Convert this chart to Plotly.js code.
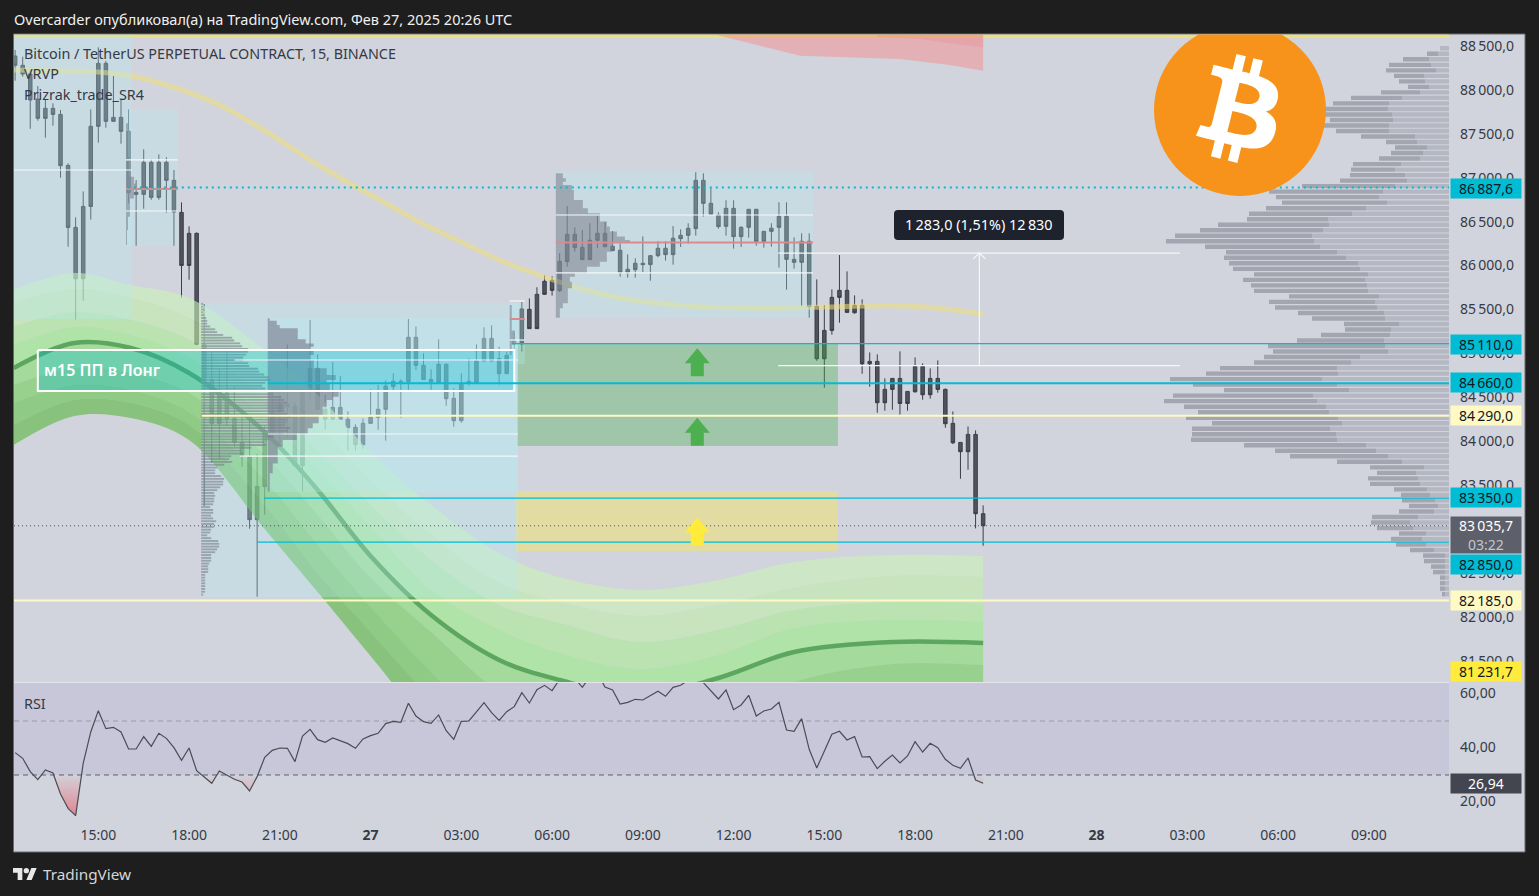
<!DOCTYPE html>
<html><head><meta charset="utf-8">
<script src="https://cdn.plot.ly/plotly-3.0.1.min.js"></script>
<style>html,body{margin:0;padding:0;background:#1e1e1e}#c{width:1539px;height:896px}</style>
</head><body><div id="c"></div>
<script>
// ---- candles: monochrome in the picture, so they are stored as wick and body extents
const firstBar = -11;
const highs = [88454,88378,88226,88044,87892,87847,87771,87163,86548,86844,87778,88485,88329,88158,87892,87778,86973,87323,87209,87266,87232,87087,86719,86446,86377,
85561,85026,84821,85026,84612,84274,84263,83853,84176,84582,84548,85102,84441,84589,85379,84988,84525,84901,84741,84339,84191,84259,84593,84639,84692,84772,84703,85391,85307,84999,84817,85159,84886,84601,84772,84943,85102,85296,85318,85075,85018,85246,
85581,85626,85752,85888,85877,86139,86678,86435,86405,86481,86564,86496,86393,86253,86127,86082,86332,86116,86279,86276,86450,86412,86481,87062,87050,86879,86606,86743,86743,86446,86640,86640,86389,86481,86720,86720,86321,86367,86367,
85842,85550,85728,86119,85933,85660,85614,85010,84988,84714,84714,85022,84566,84953,84885,84828,84919,84600,84338,83985,84167,84122,83268];
const bodyTops = [88386,88280,88181,87896,87790,87790,87721,87140,86434,86673,87585,88302,88302,87687,87687,87528,86833,87175,87175,87175,87175,86970,86605,86366,86366,
85102,84696,84548,84548,84259,83986,83819,83484,84111,84339,84419,84419,84396,84578,84829,84829,84362,84384,84384,84248,84157,84202,84271,84362,84627,84681,84681,85182,85182,84863,84703,84874,84874,84487,84658,84681,84912,85170,85170,84939,84977,85144,
85505,85501,85672,85820,85831,86048,86355,86355,86207,86287,86367,86367,86219,86173,85957,86025,86025,86112,86196,86196,86310,86344,86424,86970,86970,86708,86576,86651,86651,86435,86640,86640,86389,86424,86560,86560,86070,86276,86276,
85534,85261,85637,85717,85717,85546,85546,84908,84908,84589,84714,84714,84566,84851,84851,84714,84714,84589,84202,83985,84076,84076,83173];
const bodyBottoms = [88280,88181,87885,87676,87676,87721,87137,86434,85849,85849,86673,87585,87642,87642,87528,86829,86810,86810,86776,86776,86970,86609,86001,86001,85102,
84684,84198,84198,84255,83986,83826,83105,83105,83481,84111,84335,84392,83720,83720,84574,84362,84248,84248,84248,84153,83959,83959,84202,84271,84362,84620,84677,84677,84863,84703,84677,84669,84483,84232,84232,84658,84665,84912,84912,84768,84768,85106,
85106,85281,85281,85672,85717,85714,86044,86203,86067,86067,86287,86215,86169,85919,85919,85953,86010,86010,86112,86124,86124,86306,86344,86420,86708,86583,86443,86446,86329,86329,86435,86272,86272,86389,86435,86070,86036,86036,85531,
84938,84938,85261,85637,85466,85462,84881,84881,84437,84437,84589,84429,84429,84562,84528,84528,84589,84198,83981,83879,83879,83173,83035.7];
const lows = [88105,88150,87558,87649,87456,87592,87000,86214,85386,85599,86522,87399,87569,87638,87387,86708,86225,86647,86749,86749,86601,86225,85633,85838,85102,
83260,83754,83800,84176,83933,83708,83002,82228,83162,83997,83898,84035,83709,83424,84460,84354,84130,84248,84244,83891,83891,83914,84198,84130,84005,84567,84267,84574,84810,84700,84574,84665,84403,84164,84210,84631,84665,84908,84908,84643,84764,84969,
85019,85281,85281,85668,85657,85698,85987,86158,86067,86067,86196,86207,86165,85873,85862,85862,85919,85827,86093,86055,86010,86211,86249,86340,86557,86583,86420,86340,86192,86211,86317,86226,86203,86215,85976,85725,85964,85539,85406,
84915,84608,85212,85348,85466,85451,84767,84619,84323,84346,84357,84300,84346,84551,84471,84483,84551,84152,83966,83571,83674,83006,82808];
const rsiValues = [38.28,36.18,31.24,28.27,31.86,30.75,22.97,17.66,14.94,34.33,45.93,53.83,47.17,47.66,45.93,39.63,39.63,44.2,40.62,45.44,43.58,40.13,35.44,40.0,31.6,29.39,26.92,31.49,29.88,28.4,27.41,24.08,29.39,36.55,39.14,40.0,39.88,34.94,44.45,46.92,43.09,42.1,43.71,42.6,41.61,39.88,43.34,44.57,45.44,49.02,49.88,49.51,56.55,51.86,49.76,49.14,52.23,46.42,43.21,49.88,50.0,53.34,56.79,53.09,50.25,53.46,55.31,
60.5,56.67,61.6,63.2,61.24,65.44,67.04,65.81,62.47,66.42,67.66,62.6,61.49,56.3,56.92,58.03,57.78,59.39,61.0,59.14,62.47,63.21,64.94,67.04,64.2,61.24,58.15,61.49,54.2,55.93,59.51,51.86,53.71,54.45,56.92,46.67,46.18,50.87,39.51,32.6,38.65,45.07,46.18,42.97,44.2,36.67,36.79,32.35,35.07,37.41,34.45,37.04,42.35,38.52,41.73,40.13,35.81,33.58,32.47,36.3,28.15,26.94];

// ---- moving-average ribbon and slow curve
const ribbonBars = [-11.2,-3.2,4.3,12,22,29,36,44,53,61,71.5,82,92,105,117];
const ribbonU1 = [85721,85915,85778,85630,85038,84525,83876,83272,82725,82452,82304,82418,82623,82703,82691];
const ribbonU2 = [85573,85732,85630,85402,84753,84183,83557,82930,82384,82167,82008,82133,82327,82463,82452];
const ribbonU3 = [85300,85470,85379,85151,84468,83899,83272,82646,82133,81928,81712,81848,82076,82167,82156];
const ribbonU4 = [85095,85300,85208,84946,84263,83671,83022,82304,81848,81586,81404,81564,81871,81962,81939];
const ribbonMid = [84832,85117,85060,84775,84103,83443,82691,82019,81507,81279,81108,81302,81598,81712,81700];
const ribbonL1 = [84639,84832,84775,84548,83841,83158,82441,81826,81142,80800,80652,80880,81256,81461,81450];
const ribbonL2 = [84434,84639,84582,84331,83557,82817,82110,81370,80595,80140,79912,80254,80709,81051,81051];
const ribbonL3 = [84183,84468,84434,84183,83272,82498,81826,81051,80140,79684,79456,79798,80254,80595,80595];
const ribbonL4 = [83955,84286,84263,84012,82999,82281,81552,80709,79912,79456,79228,79570,80026,80368,80368];
const slowBars = [-11.2,-5,0,5,11,16,21,27,32,37,43,48,53,59,64,69,75,80,85,91,96,101,107,112,117];
const slowCurve = [88227,88215,88204,88147,87999,87828,87589,87258,86997,86757,86473,86268,86063,85869,85732,85630,85561,85527,85516,85516,85527,85539,85539,85505,85448];
const redBars = [81.5,83.9,92.8,106,112.6,117];
const redLower = [88631,88580,88390,88352,88284,88219];
const redInnerBars = [103,108.3,112.6,117];
const redInner = [88601,88583,88530,88484];

// ---- right-hand visible-range volume profile (rows from top to bottom)
const vpFirstPrice = 88474, vpStep = 62.8;
const vpDark = [0,11,26,42,50,30,26,21,39,51,56,68,75,63,66,53,54,31,32,32,41,48,44,55,67,93,114,103,105,100,103,81,111,123,137,148,115,111,122,129,127,114,122,116,114,90,106,102,86,73,55,46,69,87,117,115,96,97,117,132,152,144,125,140,153,142,131,152,130,138,144,146,122,101,98,65,54,39,50,50,33,29,33,29,35,46,39,36,27,31,30,24,22,21,14,12,5,5,5,3];
const vpLight = [9,11,20,18,13,25,24,20,29,47,60,61,57,56,60,60,34,32,22,26,29,48,54,44,42,54,66,70,62,83,97,121,120,126,137,135,129,112,103,91,89,81,84,82,81,70,74,72,65,64,50,58,59,65,64,61,89,98,112,111,127,112,100,136,132,123,120,111,107,119,113,112,83,73,61,47,25,33,31,29,22,19,14,11,15,31,39,36,23,27,23,15,4,4,4,4,4,4,4,4];

// ---- session profiles
const profCTop = 85563, profCBottom = 82252;
const profCRows = [2,2,3,2,3,5,6,6,9,14,16,22,31,33,39,41,47,47,45,42,42,47,48,57,58,63,68,69,64,61,64,69,72,80,83,86,83,83,83,86,90,86,85,84,89,87,82,73,68,63,65,50,40,42,30,28,31,23,16,14,14,20,23,22,22,19,16,13,14,13,13,12,9,12,12,10,12,15,13,13,10,9,6,10,17,18,18,16,14,10,10,10,8,7,7,7,4,4,4,4,4,4,4,2];
const profDPrices = [85398,85372,85322,85284,85208,85159,85113,85075,85037,84980,84924,84829,84753,84696,84658,84582,84506,84468,84392,84297,84202,84145,84088,84012,83936,83860,83746,83633,83519,83424];
const profDVols = [2,2,9,12,30,30,38,46,42,46,42,46,59,68,59,62,71,65,59,55,51,45,40,29,15,10,10,5,2,2];
const profEPrices = [87050,86993,86955,86917,86860,86803,86746,86651,86594,86500,86443,86386,86329,86291,86260,86215,86158,86101,86044,85987,85911,85873,85816,85740,85645,85569,85512,85436,85406];
const profEVols = [5,7,10,7,16,18,18,27,32,44,51,54,61,69,74,57,56,51,51,44,31,19,14,16,12,12,7,4,4];
const profBPrices = [87619,87391,87239,87011,86935,86859,86764,86708,86556,86404,86233];
const profBVols = [1,2,2,3,8,10,8,4,4,2,1];
const profFPrices = [85550,85260,85100,84980];
const profFVols = [1,2,5,2];

// ---- zones: [first bar, last bar, top price, bottom price]
const boxBlue = [[-11.2,4.45,88631,85391],[3.66,10.5,87783,86222],[13.6,55.5,85573,82224],[22.4,55.5,85402,83420],[60.5,94.5,87065,85402],[54.4,56.4,85573,84878]];
const zoneGreen = [55.4,97.8,85106,83944];
const zoneYellow = [55.2,97.8,83432,82748];
const noteBox = [-8,55,85038,84571];
const topStrip = [-11.2,178.6,88631,88590];

// ---- horizontal levels: price, first bar, last bar
const whiteLines = [[87088,-11.2,4.45],[87202,3.66,10.5],[86621,3.66,10.5],[84924,18,55.5],[84081,22.4,55.5],[83830,18.7,55.5],[85596,54.4,56.4],[85151,54.4,56.4],[86575,60.5,94.5],[85915,60.5,94.5],[86142,89.9,143],[84860,89.9,143]];
const redLines = [[86871,3.66,10.5],[86262,60.5,94.5],[85391,54.4,56.4],[84290,13.7,15]];
const cyanLevels = [85110,83350,82850];
const cyanStarts = [54.7,21.9,21];
const cyanThick = 84660, cyanThickStart = 22.4;
const dottedCyan = 86887.6, dottedCyanStart = 3.9;
const paleLevels = [84290,82185];
const paleStarts = [13.7,-11.2];
const lastPrice = 83035.7;
const measureBar = 116.5, measureTop = 86143, measureBottom = 84860;
const arrowBar = 79.2;
const greenArrowPrices = [84897,84107];
const yellowArrowPrice = 82970;

// ---- axis labels
const priceTicks = [88500,88000,87500,87000,86500,86000,85500,85000,84500,84000,83500,83000,82500,82000,81500];
const priceLabels = ['88\u2009500,0','88\u2009000,0','87\u2009500,0','87\u2009000,0','86\u2009500,0','86\u2009000,0','85\u2009500,0','85\u2009000,0','84\u2009500,0','84\u2009000,0','83\u2009500,0','83\u2009000,0','82\u2009500,0','82\u2009000,0','81\u2009500,0'];
const timeTicks = [0,12,24,36,48,60,72,84,96,108,120,132,144,156,168];
const timeLabels = ['15:00','18:00','21:00','<b>27</b>','03:00','06:00','09:00','12:00','15:00','18:00','21:00','<b>28</b>','03:00','06:00','09:00'];
const rsiTicks = [60.5,40.5,20.5];
const rsiLabels = ['60,00','40,00','20,00'];

const FONT = '"Noto Sans", sans-serif';
const TXT = '#363a45';
const W = 1539, H = 896;
const px = v => v / W, py = v => 1 - v / H;
const XR = [-11.15, 178.6], YR = [81256.3, 88631], RR = [11.48, 64.07];

const bars = highs.map((_, i) => firstBar + i);
const traces = [];
const band = (a, b, c) => {
  traces.push({type:'scatter',mode:'lines',x:ribbonBars,y:a,line:{width:0,shape:'spline'},showlegend:false,hoverinfo:'skip'});
  traces.push({type:'scatter',mode:'lines',x:ribbonBars,y:b,line:{width:0,shape:'spline'},fill:'tonexty',fillcolor:c,showlegend:false,hoverinfo:'skip'});
};
const rect = (r, fill, line, w) => traces.push({type:'scatter',mode:'lines',x:[r[0],r[1],r[1],r[0],r[0]],y:[r[2],r[2],r[3],r[3],r[2]],fill:'toself',fillcolor:fill,line:{width:w||0,color:line||'rgba(0,0,0,0)'},hoverinfo:'skip',showlegend:false});
const hline = (p, a, b, color, width, dash) => traces.push({type:'scatter',mode:'lines',x:[a,b],y:[p,p],line:{color:color,width:width,dash:dash||'solid'},hoverinfo:'skip',showlegend:false});

traces.push({type:'candlestick',x:bars,open:bodyTops,high:highs,low:lows,close:bodyBottoms,
  increasing:{line:{color:'#3b3d47',width:1},fillcolor:'#50535e'},decreasing:{line:{color:'#3b3d47',width:1},fillcolor:'#50535e'},
  whiskerwidth:0,hoverinfo:'skip',showlegend:false});

rect(zoneGreen,'rgba(76,175,80,0.36)');
rect(zoneYellow,'rgba(250,228,80,0.42)');
rect(topStrip,'#ecdf7c');

const ribbonColors = ['rgba(202,242,183,0.6)','rgba(191,239,170,0.6)','rgba(171,236,150,0.6)','rgba(154,236,133,0.6)','rgba(133,221,112,0.6)','rgba(114,207,90,0.6)','rgba(99,197,75,0.6)','rgba(87,182,62,0.6)'];
const ribbonEdges = [ribbonU1,ribbonU2,ribbonU3,ribbonU4,ribbonMid,ribbonL1,ribbonL2,ribbonL3,ribbonL4];
ribbonColors.forEach((c, i) => band(ribbonEdges[i], ribbonEdges[i + 1], c));
traces.push({type:'scatter',mode:'lines',x:ribbonBars,y:ribbonMid,line:{color:'#5ca660',width:4.5,shape:'spline'},hoverinfo:'skip',showlegend:false});
traces.push({type:'scatter',mode:'lines',x:slowBars,y:slowCurve,line:{color:'rgba(240,222,120,0.55)',width:5,shape:'spline'},hoverinfo:'skip',showlegend:false});

traces.push({type:'scatter',mode:'lines',x:redBars.concat(redBars.slice().reverse()),y:redLower.concat(redBars.map(() => YR[1])),fill:'toself',fillcolor:'rgba(252,122,122,0.4)',line:{width:0},hoverinfo:'skip',showlegend:false});
traces.push({type:'scatter',mode:'lines',x:redInnerBars.concat(redInnerBars.slice().reverse()),y:redInner.concat(redInnerBars.map(() => YR[1])),fill:'toself',fillcolor:'rgba(240,110,120,0.18)',line:{width:0},hoverinfo:'skip',showlegend:false});

boxBlue.forEach(b => rect(b,'rgba(178,235,242,0.30)'));

const volToBars = 1 / 7.5625;
const stepped = (start, prices, vols, color) => {
  const xs = [start], ys = [prices[0]];
  prices.forEach((p, i) => { xs.push(start + vols[i] * volToBars); ys.push(p); });
  xs.push(start); ys.push(prices[prices.length - 1]);
  traces.push({type:'scatter',mode:'lines',x:xs,y:ys,fill:'toself',fillcolor:color,line:{width:0,shape:'hv'},hoverinfo:'skip',showlegend:false});
};
stepped(22.4,profDPrices,profDVols,'rgba(122,125,140,0.62)');
stepped(60.5,profEPrices,profEVols,'rgba(122,125,140,0.55)');
stepped(3.66,profBPrices,profBVols,'rgba(122,125,140,0.55)');
stepped(54.4,profFPrices,profFVols,'rgba(122,125,140,0.55)');
{
  const xs = [], ys = [], s = (profCTop - profCBottom) / (profCRows.length - 1);
  profCRows.forEach((v, i) => { const p = profCTop - i * s; xs.push(13.6, 13.6 + v * volToBars, null); ys.push(p, p, null); });
  traces.push({type:'scatter',mode:'lines',x:xs,y:ys,line:{color:'rgba(122,125,140,0.6)',width:1.9},hoverinfo:'skip',showlegend:false});
}
{
  const xR = XR[1];
  const dx = [], dy = [], lx = [], ly = [];
  vpDark.forEach((d, i) => {
    const p = vpFirstPrice - i * vpStep, mid = xR - vpLight[i] * volToBars;
    lx.push(xR, mid, null); ly.push(p, p, null);
    if (d > 0) { dx.push(mid, mid - d * volToBars, null); dy.push(p, p, null); }
  });
  traces.push({type:'scatter',mode:'lines',x:lx,y:ly,line:{color:'#b5b8c3',width:4.4},hoverinfo:'skip',showlegend:false});
  traces.push({type:'scatter',mode:'lines',x:dx,y:dy,line:{color:'#a3a6b0',width:4.4},hoverinfo:'skip',showlegend:false});
}
rect(noteBox,'rgba(0,188,212,0.32)','#ffffff',2);

whiteLines.forEach(l => hline(l[0],l[1],l[2],'#f5f7fa',1.2));
redLines.forEach(l => hline(l[0],l[1],l[2],'#d98a8c',2));
traces.push({type:'scatter',mode:'lines',x:[measureBar,measureBar],y:[measureBottom,measureTop],line:{color:'#f5f7fa',width:1.2},hoverinfo:'skip',showlegend:false});
cyanLevels.forEach((p,i) => hline(p,cyanStarts[i],XR[1],'#00bcd4',1.3));
hline(cyanThick,cyanThickStart,XR[1],'#00bcd4',2);
hline(dottedCyan,dottedCyanStart,XR[1],'#00bcd4',2,'2px,4px');
paleLevels.forEach((p,i) => hline(p,paleStarts[i],XR[1],'#fff9c4',2));
hline(lastPrice,XR[0],XR[1],'#50535e',1,'1px,3px');

// RSI panel
const rsiAxes = {xaxis:'x2',yaxis:'y2',hoverinfo:'skip',showlegend:false,type:'scatter'};
traces.push(Object.assign({},rsiAxes,{mode:'lines',x:[XR[0],XR[1],XR[1],XR[0],XR[0]],y:[30,30,RR[1],RR[1],30],fill:'toself',fillcolor:'rgba(126,87,194,0.10)',line:{width:0}}));
{
  const xs = [], ys = [];
  let open = false;
  const L = 30;
  rsiValues.forEach((v, i) => {
    const b = bars[i];
    if (v < L) {
      if (!open) {
        const pv = i ? rsiValues[i - 1] : v;
        const t = i ? (pv - L) / (pv - v) : 1;
        xs.push(bars[i] - 1 + t); ys.push(L); open = true;
      }
      xs.push(b); ys.push(v);
      const nv = rsiValues[i + 1];
      if (nv === undefined) { xs.push(b, null); ys.push(L, null); open = false; }
      else if (nv >= L) { const t = (L - v) / (nv - v); xs.push(b + t, null); ys.push(L, null); open = false; }
    }
  });
  traces.push(Object.assign({},rsiAxes,{mode:'lines',x:xs,y:ys,fill:'toself',line:{width:0},
    fillgradient:{type:'vertical',start:30,stop:15,colorscale:[[0,'rgba(242,54,69,0.02)'],[1,'rgba(242,54,69,0.5)']]}}));
}
traces.push(Object.assign({},rsiAxes,{mode:'lines',x:[XR[0],XR[1]],y:[50,50],line:{color:'#9a9ba8',width:1,dash:'5px,4px'}}));
traces.push(Object.assign({},rsiAxes,{mode:'lines',x:[XR[0],XR[1]],y:[30,30],line:{color:'#5d606b',width:1,dash:'5px,4px'}}));
traces.push(Object.assign({},rsiAxes,{mode:'lines',x:bars,y:rsiValues,line:{color:'#4a4c54',width:1.2}}));

// Bitcoin mark and TradingView mark as small inline vector images
const btcPath = 'M46.103 27.444c.637-4.258-2.605-6.547-7.038-8.074l1.438-5.768-3.511-.875-1.4 5.616c-.923-.23-1.871-.447-2.813-.662l1.41-5.653-3.509-.875-1.439 5.766c-.764-.174-1.514-.346-2.242-.527l.004-.018-4.842-1.209-.934 3.75s2.605.597 2.55.634c1.422.355 1.679 1.296 1.636 2.042l-1.638 6.571c.098.025.225.061.365.117l-.371-.092-2.296 9.205c-.174.432-.615 1.08-1.609.834.035.051-2.552-.637-2.552-.637l-1.743 4.019 4.569 1.139c.85.213 1.683.436 2.503.646l-1.453 5.834 3.507.875 1.439-5.772c.958.26 1.888.5 2.798.726l-1.434 5.745 3.511.875 1.453-5.823c5.987 1.133 10.489.676 12.384-4.739 1.527-4.36-.076-6.875-3.226-8.515 2.294-.529 4.022-2.038 4.483-5.155zM38.08 38.69c-1.085 4.36-8.426 2.003-10.806 1.412l1.928-7.729c2.38.594 10.012 1.77 8.878 6.317zm1.086-11.31c-.99 3.966-7.1 1.951-9.082 1.457l1.748-7.01c1.982.494 8.365 1.416 7.334 5.553z';
const btcSvg = `<svg xmlns="http://www.w3.org/2000/svg" width="688" height="646" viewBox="0 10.5 172 161.5"><circle cx="86" cy="86" r="86" fill="#f7931a"/><path transform="scale(2.6875)" fill="#fff" d="${btcPath}"/></svg>`;
const tvSvg = `<svg xmlns="http://www.w3.org/2000/svg" width="144" height="72" viewBox="0 4 36 18"><path fill="#e8e8e8" d="M14 22H7V11H0V4h14v18zM28 22h-8l7.5-18h8L28 22z"/><circle fill="#e8e8e8" cx="20" cy="8" r="4"/></svg>`;
const uri = s => 'data:image/svg+xml;base64,' + btoa(s);

const blockArrow = 'M0,14 L12.5,-1 L6.5,-1 L6.5,-14 L-6.5,-14 L-6.5,-1 L-12.5,-1 Z';
const arrowShape = (price, color) => ({type:'path',xref:'x',yref:'y',xsizemode:'pixel',ysizemode:'pixel',xanchor:arrowBar,yanchor:price,path:blockArrow,fillcolor:color,line:{width:0}});

const badge = (text, y, bg, fg, h, size) => ({xref:'paper',yref:'paper',x:px(1450),y:py(y),xanchor:'left',yanchor:'middle',text:text,showarrow:false,width:70,height:h||19,bgcolor:bg,font:{family:FONT,size:size||14,color:fg},align:'center',valign:'middle',borderpad:0});
const label = (text, x, y, size, color, extra) => Object.assign({xref:'paper',yref:'paper',x:px(x),y:py(y),xanchor:'left',yanchor:'middle',text:text,showarrow:false,font:{family:FONT,size:size,color:color}},extra||{});

const layout = {
  width:W,height:H,margin:{l:0,r:0,t:0,b:0},paper_bgcolor:'#1e1e1e',plot_bgcolor:'rgba(0,0,0,0)',showlegend:false,hovermode:false,dragmode:false,boxgap:0.34,
  xaxis:{domain:[px(14),px(1449)],range:XR,type:'linear',anchor:'y',showgrid:false,zeroline:false,showticklabels:false,ticks:'',rangeslider:{visible:false},showline:false},
  yaxis:{domain:[py(682),py(34.5)],range:YR,side:'right',anchor:'x',showgrid:false,zeroline:false,tickmode:'array',tickvals:priceTicks,ticktext:priceLabels,ticks:'',ticklen:0,ticklabelstandoff:10,tickfont:{family:FONT,size:14,color:TXT},showline:false},
  xaxis2:{domain:[px(14),px(1449)],range:XR,type:'linear',anchor:'y2',showgrid:false,zeroline:false,tickmode:'array',tickvals:timeTicks,ticktext:timeLabels,ticks:'',ticklen:0,tickfont:{family:FONT,size:14,color:TXT},showline:false},
  yaxis2:{domain:[py(825),py(683)],range:RR,side:'right',anchor:'x2',showgrid:false,zeroline:false,tickmode:'array',tickvals:rsiTicks,ticktext:rsiLabels,ticks:'',ticklen:0,ticklabelstandoff:10,tickfont:{family:FONT,size:14,color:TXT},showline:false},
  shapes:[
    {type:'rect',xref:'paper',yref:'paper',x0:px(13.5),x1:px(1525),y0:py(852),y1:py(34),fillcolor:'#d1d4dc',line:{color:'#6a6a6a',width:1},layer:'below'},
    {type:'line',xref:'paper',yref:'paper',x0:px(14),x1:px(1449),y0:py(682.5),y1:py(682.5),line:{color:'#e4e6ec',width:1},layer:'above'},
    arrowShape(greenArrowPrices[0],'#4caf50'),arrowShape(greenArrowPrices[1],'#4caf50'),arrowShape(yellowArrowPrice,'#ffeb3b'),
    {type:'path',xref:'x',yref:'y',xsizemode:'pixel',ysizemode:'pixel',xanchor:measureBar,yanchor:measureTop,path:'M-6,-6 L0,0 L6,-6',line:{color:'#f5f7fa',width:1.2}},
    {type:'path',xref:'paper',yref:'paper',xsizemode:'pixel',ysizemode:'pixel',xanchor:px(979),yanchor:py(225),path:'M-81,15 L81,15 Q85,15 85,11 L85,-11 Q85,-15 81,-15 L-81,-15 Q-85,-15 -85,-11 L-85,11 Q-85,15 -81,15 Z',fillcolor:'#1e222d',line:{width:0}}
  ],
  images:[
    {source:uri(btcSvg),xref:'paper',yref:'paper',x:px(1154),y:py(34.5),sizex:172/W,sizey:161.5/H,xanchor:'left',yanchor:'top',sizing:'stretch',layer:'above'},
    {source:uri(tvSvg),xref:'paper',yref:'paper',x:px(13),y:py(868),sizex:24/W,sizey:12/H,xanchor:'left',yanchor:'top',sizing:'stretch',layer:'above'}
  ],
  annotations:[
    label('Overcarder опубликовал(а) на TradingView.com, Фев 27, 2025 20:26 UTC',12,19,14.5,'#f0f0f0'),
    label('TradingView',41,874,15.3,'#d6d6d6'),
    label('Bitcoin / TetherUS PERPETUAL CONTRACT, 15, BINANCE',22,53.5,14.35,TXT),
    label('VRVP',22,74,14.35,TXT),
    label('Prizrak_trade_SR4',22,95,14.35,TXT),
    label('RSI',22,703,14.35,TXT),
    label('м15 ПП в Лонг',42,370,16,'#ffffff',{font:{family:FONT,size:16,color:'#ffffff',weight:600}}),
    {xref:'paper',yref:'paper',x:px(979),y:py(225),xanchor:'center',yanchor:'middle',text:'1\u2009283,0 (1,51%) 12\u2009830',showarrow:false,font:{family:FONT,size:14.4,color:'#ffffff'}},
    badge('86\u2009887,6',188,'#00bcd4','#131722'),
    badge('85\u2009110,0',344,'#00bcd4','#131722'),
    badge('84\u2009660,0',382.7,'#00bcd4','#131722'),
    badge('84\u2009290,0',415.7,'#fff9c4','#131722'),
    badge('83\u2009350,0',497.5,'#00bcd4','#131722'),
    badge('83\u2009035,7<br><span style="color:#c4c6cc">03:22</span>',535,'#5d606b','#ffffff',36),
    badge('82\u2009850,0',564,'#00bcd4','#131722'),
    badge('82\u2009185,0',600,'#fff9c4','#131722'),
    badge('81\u2009231,7',671,'#ffeb3b','#131722'),
    badge('26,94',783,'#434651','#ffffff')
  ]
};
Plotly.newPlot('c',traces,layout,{staticPlot:true,displayModeBar:false});
</script></body></html>
